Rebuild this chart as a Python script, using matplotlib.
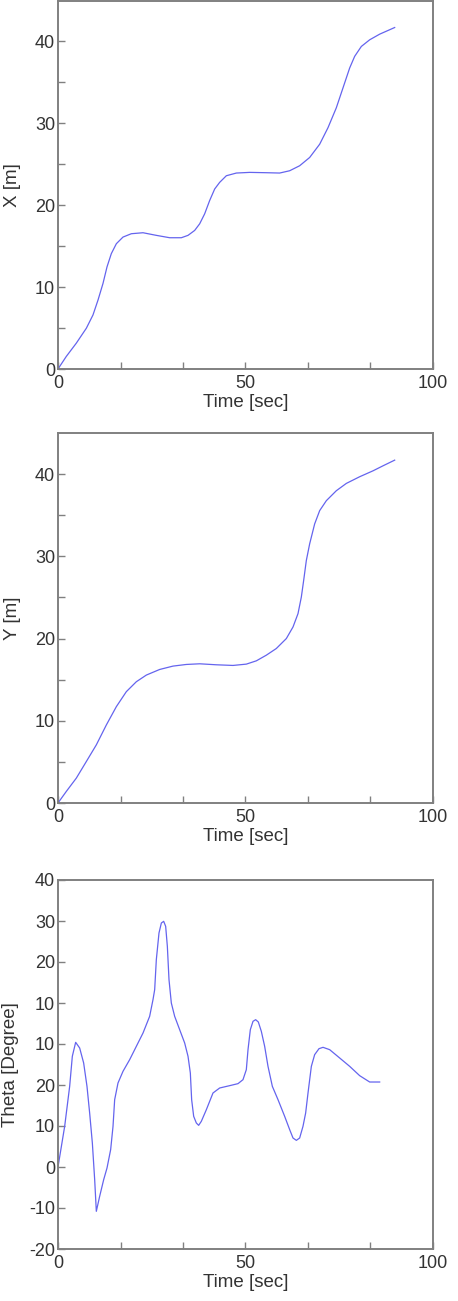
import matplotlib
matplotlib.use("Agg")
import matplotlib.pyplot as plt
from matplotlib.ticker import MultipleLocator, FixedLocator

plt.rcParams["font.family"] = ["Liberation Sans", "DejaVu Sans"]

# X position vs time
x_time = [0, 2.22, 4.89, 7.56, 9.33, 10.67, 12.0, 13.07, 14.22, 15.56, 17.33, 19.56,
          22.67, 26.22, 29.78, 32.89, 34.67, 36.44, 37.78, 39.11, 40.44, 41.78, 43.11,
          44.89, 47.56, 51.11, 55.56, 59.11, 61.78, 64.44, 67.11, 69.78, 72.0, 74.22,
          76.0, 77.78, 79.11, 80.89, 83.11, 85.78, 89.78]
x_pos = [0, 1.54, 3.16, 4.98, 6.6, 8.42, 10.45, 12.47, 14.09, 15.3, 16.11, 16.52,
         16.64, 16.32, 16.03, 16.03, 16.32, 16.92, 17.73, 18.95, 20.57, 21.98, 22.79,
         23.6, 23.93, 24.01, 23.97, 23.93, 24.21, 24.82, 25.83, 27.45, 29.47, 31.9,
         34.33, 36.76, 38.18, 39.39, 40.2, 40.89, 41.7]

# Y position vs time
y_time = [0, 2.22, 4.89, 7.56, 10.22, 12.89, 15.56, 18.22, 20.89, 23.56, 27.11, 30.67,
          34.22, 37.78, 42.22, 46.67, 50.22, 52.89, 55.56, 58.22, 60.89, 62.67, 64.0,
          64.89, 65.51, 66.22, 67.11, 68.44, 69.78, 71.56, 74.22, 76.89, 80.44, 84.0,
          86.67, 89.78]
y_pos = [0, 1.41, 3.03, 5.05, 7.07, 9.49, 11.72, 13.54, 14.75, 15.56, 16.24, 16.65,
         16.85, 16.93, 16.81, 16.73, 16.89, 17.29, 17.98, 18.79, 20.0, 21.41, 23.03,
         25.05, 27.07, 29.49, 31.52, 33.94, 35.56, 36.77, 37.98, 38.87, 39.68, 40.4,
         41.01, 41.7]

# Theta vs time (axis units; tick labels printed as in the source figure)
th_time = [0, 1.78, 3.11, 3.82, 4.71, 5.78, 6.84, 7.73, 8.44, 9.16, 9.78, 10.22,
           11.11, 12.18, 13.07, 14.04, 14.67, 15.11, 16.0, 17.33, 19.11, 20.89, 22.67,
           24.44, 25.33, 25.78, 26.22, 26.93, 27.56, 28.18, 28.71, 29.16, 29.6, 30.22,
           31.11, 32.44, 33.78, 34.67, 35.29, 35.64, 36.18, 36.89, 37.51, 38.22, 39.56,
           41.33, 43.11, 45.78, 48.0, 49.33, 50.22, 50.67, 51.29, 52.0, 52.71, 53.42,
           54.22, 55.11, 56.0, 57.16, 58.67, 60.44, 61.78, 62.67, 63.56, 64.44, 65.33,
           66.04, 66.67, 67.56, 68.44, 69.6, 70.67, 72.44, 75.11, 77.78, 80.44, 83.11,
           85.78]
th_val = [0, 9.92, 19.67, 27.0, 30.41, 29.02, 25.37, 19.67, 13.17, 5.85, -3.09, -10.81,
          -7.15, -3.09, -0.24, 4.23, 9.92, 16.42, 20.49, 23.33, 26.18, 29.43, 32.68,
          36.75, 40.81, 43.25, 50.57, 57.07, 59.51, 59.92, 58.7, 53.82, 45.69, 40.0,
          36.75, 33.5, 30.24, 27.0, 22.93, 16.42, 12.36, 10.73, 10.16, 11.14, 13.98,
          18.05, 19.27, 19.84, 20.33, 21.3, 23.74, 28.62, 33.5, 35.53, 35.93, 35.37,
          33.09, 29.43, 24.55, 19.67, 16.42, 12.36, 9.11, 7.07, 6.5, 7.07, 9.92,
          13.17, 18.05, 24.55, 27.4, 28.86, 29.19, 28.62, 26.59, 24.55, 22.28, 20.73,
          20.73]
th_ticks = [-20, -10, 0, 10, 20, 30, 40, 50, 60, 70]
th_labels = ["-20", "-10", "0", "10", "20", "10", "10", "20", "30", "40"]

LINE = "#6464ee"
FRAME = "#808080"
TEXT = "#333333"

fig = plt.figure(figsize=(4.58, 13.01), dpi=100)
W, H = 458, 1301


def make_ax(top_px, bottom_px):
    return fig.add_axes([58 / W, 1 - bottom_px / H, 375 / W, (bottom_px - top_px) / H])


def style(ax, ylabel, label_x):
    for sp in ax.spines.values():
        sp.set_color(FRAME)
        sp.set_linewidth(1.4)
    ax.set_xlim(0, 100)
    ax.xaxis.set_major_locator(FixedLocator([0, 50, 100]))
    ax.xaxis.set_minor_locator(MultipleLocator(100 / 6))
    ax.tick_params(which="both", direction="in", color=FRAME, width=1.0, length=5,
                   labelsize=13, labelcolor=TEXT)
    ax.tick_params(axis="x", which="both", top=False, pad=4)
    ax.tick_params(axis="y", which="both", right=False, pad=2)
    ax.set_xlabel("Time [sec]", fontsize=13.5, color=TEXT, labelpad=2)
    ax.set_ylabel(ylabel, fontsize=13.5, color=TEXT)
    ax.yaxis.set_label_coords(label_x, 0.5)


ax1 = make_ax(0.5, 369)
ax1.plot(x_time, x_pos, color=LINE, lw=0.9)
ax1.set_ylim(0, 45)
ax1.yaxis.set_major_locator(FixedLocator([0, 10, 20, 30, 40]))
ax1.yaxis.set_minor_locator(FixedLocator([5, 15, 25, 35]))
style(ax1, "X [m]", -0.098)

ax2 = make_ax(433, 803)
ax2.plot(y_time, y_pos, color=LINE, lw=0.9)
ax2.set_ylim(0, 45)
ax2.yaxis.set_major_locator(FixedLocator([0, 10, 20, 30, 40]))
ax2.yaxis.set_minor_locator(FixedLocator([5, 15, 25, 35]))
style(ax2, "Y [m]", -0.098)

ax3 = make_ax(880, 1249)
ax3.plot(th_time, th_val, color=LINE, lw=0.9)
ax3.set_ylim(-20, 70)
ax3.yaxis.set_major_locator(FixedLocator(th_ticks))
ax3.set_yticklabels(th_labels)
style(ax3, "Theta [Degree]", -0.103)

fig.savefig("out.png", dpi=100)
